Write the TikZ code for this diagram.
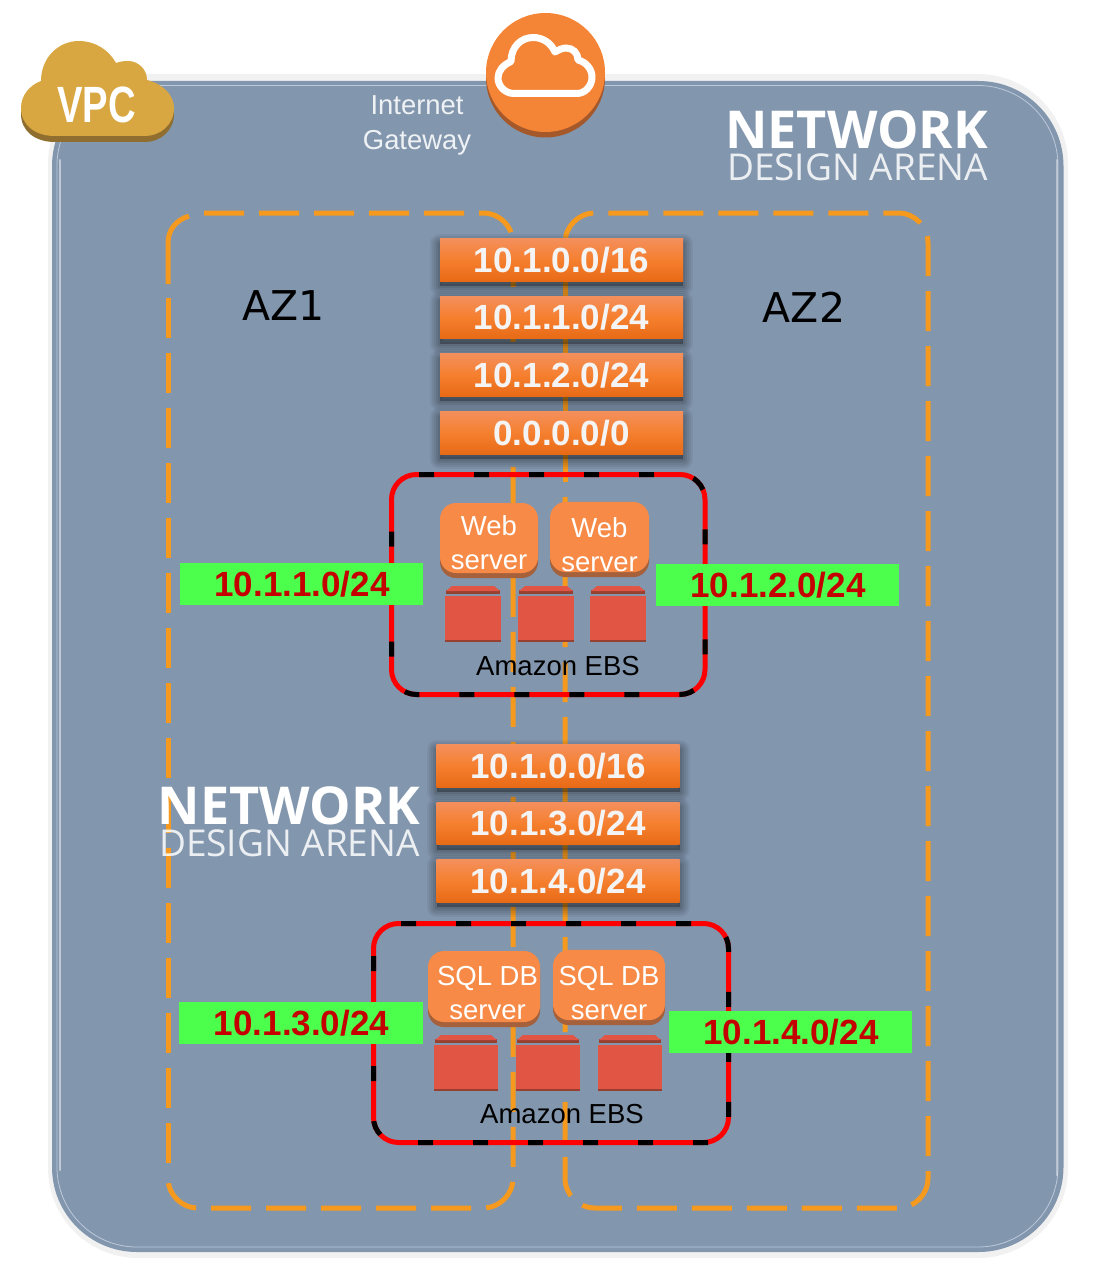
\documentclass[tikz,border=0pt]{standalone}
\usepackage{fontspec}
\setmainfont{Liberation Sans}
\newfontfamily\logofont{Open Sans}
\newfontfamily\azfont{DejaVu Sans}
\definecolor{panelblue}{HTML}{8296AE}
\definecolor{panelrim}{HTML}{F1F1F1}
\definecolor{panelline}{HTML}{BCC9DA}
\definecolor{azorange}{HTML}{F59A1E}
\definecolor{bartop}{HTML}{F48F5C}
\definecolor{barmid}{HTML}{F57F2E}
\definecolor{barbot}{HTML}{E86A16}
\definecolor{barink}{HTML}{F4F4F4}
\definecolor{labgreen}{HTML}{4DFF4D}
\definecolor{labred}{HTML}{C40000}
\definecolor{srv}{HTML}{F68A46}
\definecolor{srvdark}{HTML}{A5603C}
\definecolor{ebsred}{HTML}{E05543}
\definecolor{ebsdark}{HTML}{97402F}
\definecolor{igwfill}{HTML}{F58536}
\definecolor{igwdark}{HTML}{A5582A}
\definecolor{vpcfill}{HTML}{D9A741}
\definecolor{vpcdark}{HTML}{8F6E2F}
\tikzset{
  azsolid/.style={draw=azorange,line width=5pt,rounded corners=30pt},
  azbox/.style={azsolid,dash pattern=on 40pt off 15pt},
  redbox/.style={draw=red,line width=5pt,rounded corners=25pt},
  blackdash/.style={draw=black,line width=5pt,rounded corners=25pt,dash pattern=on 15pt off 40pt},
  softshadow/.style={
    preaction={draw=black,fill=black,draw opacity=.05,fill opacity=.05,line join=round,line width=20pt,transform canvas={yshift=-5pt}},
    preaction={draw=black,fill=black,draw opacity=.06,fill opacity=.06,line join=round,line width=16pt,transform canvas={yshift=-5pt}},
    preaction={draw=black,fill=black,draw opacity=.06,fill opacity=.06,line join=round,line width=12pt,transform canvas={yshift=-5pt}},
    preaction={draw=black,fill=black,draw opacity=.07,fill opacity=.07,line join=round,line width=8pt,transform canvas={yshift=-5pt}},
    preaction={draw=black,fill=black,draw opacity=.07,fill opacity=.07,line join=round,line width=4pt,transform canvas={yshift=-5pt}}},
  bar/.style={softshadow,rectangle,top color=bartop,bottom color=barbot,middle color=barmid,minimum width=243pt,minimum height=42.5pt,inner sep=0pt,
    text=barink,font=\fontsize{35}{35}\selectfont\bfseries},
  greenlab/.style={rectangle,fill=labgreen,minimum width=243.5pt,minimum height=42.5pt,inner sep=0pt,
    text=labred,font=\fontsize{35}{35}\selectfont\bfseries},
  server/.style={rectangle,rounded corners=16pt,fill=srv,text=white,inner sep=0pt,align=center,
    preaction={fill=srvdark,transform canvas={yshift=-5pt}},
    font=\fontsize{27.5}{34}\selectfont},
  ebsface/.style={fill=ebsred},
  ebsstrip/.style={fill=ebsdark},
  ebstext/.style={anchor=base,text=black,inner sep=0pt,font=\fontsize{27.5}{33}\selectfont},
  logotop/.style={text=white,inner sep=0pt,anchor=base,font=\logofont\bfseries\fontsize{52.2}{52.2}\selectfont},
  logobot/.style={text=white,text opacity=.85,inner sep=0pt,anchor=base,font=\logofont\fontsize{37}{37}\selectfont},
}
\newcommand{\ebsblock}[3]{% left, right, top of lid
  \fill[ebsstrip] (#1+1,#3+7.5) -- (#1+1,#3+4) -- (#2-1,#3+4) -- (#2-1,#3+7.5) -- cycle;
  \fill[ebsface] (#1+1,#3+5) -- (#1+7,#3) -- (#2-7,#3) -- (#2-1,#3+5) -- cycle;
  \fill[ebsstrip] (#1,#3+10) rectangle (#2,#3+56);
  \fill[ebsface] (#1,#3+10) rectangle (#2,#3+53.5);
}
\begin{document}
\begin{tikzpicture}[x=1pt,y=-1pt]
\useasboundingbox (0,0) rectangle (1094,1284);
% VPC panel
\fill[panelrim,rounded corners=90pt] (48,74) rectangle (1068,1258);
\fill[panelblue,rounded corners=85pt] (52,81) rectangle (1063.5,1252);
\draw[panelline,line width=.8pt,rounded corners=80pt] (57,85.5) rectangle (1058,1247);
\draw[white,line width=2pt,opacity=.5,line cap=round] (59.5,160) -- (59.5,1170);
\draw[white,line width=2pt,opacity=.4,line cap=round] (1056.5,160) -- (1056.5,1175);
% availability zones
\draw[azbox] (204,213) -- (513,213) -- (513,1208) -- (168,1208) -- (168,1179);
\draw[azbox] (168,1163) -- (168,284);
\draw[draw=azorange,line width=5pt] (168,284) -- (168,243) .. controls (168,230) and (176,220) .. (189,216);
\draw[azbox] (565,497) -- (565,1208) -- (928,1208) -- (928,213) -- (565,213) -- (565,260);
\draw[azbox] (565,277) -- (565,497);
% VPC cloud
\path[fill=vpcdark,yshift=-6pt] (41,81) .. controls (41,58) and (58,41) .. (79,41) .. controls (95,41) and (109,50) .. (116,63)
  .. controls (120,61.5) and (124,61) .. (128,61) .. controls (138,61) and (147,69) .. (147,80)
  .. controls (163,84) and (174,95) .. (174,108) .. controls (174,125) and (160,136) .. (145,136)
  -- (55,136) .. controls (35,136) and (21,125) .. (21,108) .. controls (21,95) and (30,85) .. (41,81) -- cycle;
\path[fill=vpcfill] (41,81) .. controls (41,58) and (58,41) .. (79,41) .. controls (95,41) and (109,50) .. (116,63)
  .. controls (120,61.5) and (124,61) .. (128,61) .. controls (138,61) and (147,69) .. (147,80)
  .. controls (163,84) and (174,95) .. (174,108) .. controls (174,125) and (160,136) .. (145,136)
  -- (55,136) .. controls (35,136) and (21,125) .. (21,108) .. controls (21,95) and (30,85) .. (41,81) -- cycle;
\node[text=white,inner sep=0pt,anchor=base,xscale=.75,font=\bfseries\fontsize{51}{51}\selectfont] (vpc) at (96.5,122.5) {VPC};
% Internet gateway
\fill[igwdark] (545.5,78) circle[radius=59.5];
\node[circle,fill=igwfill,minimum size=119pt,inner sep=0pt] (igw) at (545.5,72.5) {};
\draw[white,line width=7pt,line join=round] (514,93.5) .. controls (505,93.5) and (498,86) .. (498,78)
  .. controls (498,71) and (503,65) .. (511,61.5) .. controls (511,47) and (521,37.5) .. (533,37.5)
  .. controls (543,37.5) and (551,43) .. (555,52) .. controls (558,50) and (563,48) .. (566,48)
  .. controls (573,48) and (578,53) .. (578,60) .. controls (586,62) and (592,69) .. (592,77)
  .. controls (592,86) and (585,93.5) .. (577,93.5) -- cycle;
\node[text=white,text opacity=.88,inner sep=0pt,align=center,font=\fontsize{27.4}{35}\selectfont] (igwlab) at (417,125.5) {Internet\\Gateway};
% logo top right
\node[logotop] (logoa) at (856.5,149) {NETWORK};
\node[logobot] (logob) at (857.5,181) {DESIGN ARENA};
% AZ labels
\node[inner sep=0pt,text=black,font=\azfont\fontsize{41}{41}\selectfont] (az1) at (283.5,306) {AZ1};
\node[inner sep=0pt,text=black,font=\azfont\fontsize{41}{41}\selectfont] (az2) at (804,307) {AZ2};
% route bars, upper
\node[bar] (r1) at (561.5,260) {10.1.0.0/16};
\node[bar] (r2) at (561.5,317.5) {10.1.1.0/24};
\node[bar] (r3) at (561.5,375) {10.1.2.0/24};
\node[bar] (r4) at (561.5,433) {0.0.0.0/0};
% web tier
\draw[redbox] (391.5,474.5) rectangle (705,694.5);
\draw[blackdash] (419,474.5) -- (705,474.5) -- (705,694.5) -- (391.5,694.5) -- (391.5,500);
\node[server,minimum width=98pt,minimum height=70pt] (web1) at (489,538) {\rule{0pt}{30pt}Web\\server};
\node[server,minimum width=99pt,minimum height=70pt] (web2) at (599.5,537) {\rule{0pt}{36pt}Web\\server};
\ebsblock{445}{501}{586}
\ebsblock{518}{574}{586}
\ebsblock{590}{646}{586}
\node[ebstext] (ebs1) at (558,675) {Amazon EBS};
\node[greenlab] (lab1) at (301.5,584) {\hspace*{1pt}10.1.1.0/24};
\node[greenlab] (lab2) at (777.5,585) {\hspace*{1pt}10.1.2.0/24};
% route bars, lower
\node[bar] (s1) at (558,766) {10.1.0.0/16};
\node[bar] (s2) at (558,823.5) {10.1.3.0/24};
\node[bar] (s3) at (558,881) {10.1.4.0/24};
% logo lower left
\node[logotop] (logoc) at (289,824) {NETWORK};
\node[logobot] (logod) at (289.5,856) {DESIGN ARENA};
% db tier
\draw[redbox] (373.5,923.5) rectangle (728.5,1142.5);
\draw[blackdash] (401,923.5) -- (728.5,923.5) -- (728.5,1120);
\draw[blackdash] (708,1142.5) -- (373.5,1142.5) -- (373.5,950);
\node[server,minimum width=112pt,minimum height=71pt] (db1) at (484,986.5) {\rule{0pt}{32pt}\hspace*{7pt}SQL DB\\\hspace*{7pt}server};
\node[server,minimum width=112pt,minimum height=70pt] (db2) at (609,985) {\rule{0pt}{36pt}SQL DB\\server};
\ebsblock{434}{498}{1035}
\ebsblock{516}{580}{1035}
\ebsblock{598}{662}{1035}
\node[ebstext] (ebs2) at (562,1123) {Amazon EBS};
\node[greenlab] (lab3) at (301,1023) {\hspace*{1pt}10.1.3.0/24};
\node[greenlab] (lab4) at (790.5,1032) {\hspace*{1pt}10.1.4.0/24};
\end{tikzpicture}
\end{document}
